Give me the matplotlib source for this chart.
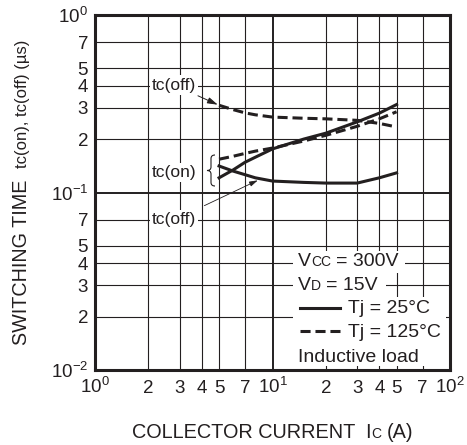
import numpy as np
import matplotlib
matplotlib.use('Agg')
import matplotlib.pyplot as plt
from matplotlib.ticker import LogLocator, FuncFormatter
from matplotlib.path import Path
from matplotlib.patches import PathPatch, Rectangle
from matplotlib.lines import Line2D

plt.rcParams['font.family'] = ['Liberation Sans', 'DejaVu Sans']
INK = '#231f20'

# data
current = [5, 6, 7, 8, 10, 15, 20, 30, 40, 50]
ton_25 = [0.121, 0.134, 0.148, 0.158, 0.176, 0.200, 0.216, 0.250, 0.280, 0.313]
ton_125 = [0.154, 0.160, 0.166, 0.171, 0.178, 0.195, 0.210, 0.236, 0.260, 0.285]
toff_25 = [0.141, 0.132, 0.126, 0.121, 0.116, 0.114, 0.113, 0.113, 0.121, 0.129]
toff_125 = [0.310, 0.293, 0.281, 0.274, 0.266, 0.262, 0.260, 0.255, 0.245, 0.234]

W, H = 467, 445
fig = plt.figure(figsize=(W / 100, H / 100), dpi=100)
ax = fig.add_axes([95 / W, 1 - 370 / H, 355 / W, 355 / H])
renderer = fig.canvas.get_renderer()


def px_ax(x, y):
    # figure pixel (from top-left) -> axes fraction
    return (x - 95) / 355, (370 - y) / 355


ax.set_xscale('log')
ax.set_yscale('log')
ax.set_xlim(1, 100)
ax.set_ylim(0.01, 1)

sub_fmt = FuncFormatter(lambda v, p: '%d' % round(v / 10 ** np.floor(np.log10(v) + 1e-9)))
for axis in (ax.xaxis, ax.yaxis):
    axis.set_major_locator(LogLocator(base=10, numticks=5))
    axis.set_minor_locator(LogLocator(base=10, subs=(2, 3, 4, 5, 7), numticks=12))
    axis.set_minor_formatter(sub_fmt)
ax.tick_params(which='both', length=0, labelsize=13.5, colors=INK)
ax.tick_params(axis='x', which='both', pad=16.5)
ax.tick_params(axis='y', which='both', pad=5)
for tick in ax.xaxis.get_major_ticks() + ax.xaxis.get_minor_ticks():
    tick.label1.set_va('baseline')
ax.grid(which='major', color=INK, lw=1.4)
ax.grid(which='minor', color=INK, lw=0.8)
for s in ax.spines.values():
    s.set_linewidth(2.2)
    s.set_color(INK)

dash = (0, (3.3, 1.6))
ax.plot(current, ton_25, color=INK, lw=2.2, zorder=3)
ax.plot(current, toff_25, color=INK, lw=2.2, zorder=3)
ax.plot(current, ton_125, color=INK, lw=2.2, ls=dash, zorder=3)
ax.plot(current, toff_125, color=INK, lw=2.2, ls=dash, zorder=3)

# labels on the curves
box = dict(fc='white', ec='none', pad=1.5)
ax.annotate('tc(off)', xy=(current[0], toff_125[0]), xytext=(2.79, 0.403),
            ha='center', va='center', fontsize=12.5, color=INK, bbox=box, zorder=4,
            arrowprops=dict(arrowstyle='-|>,head_length=0.5,head_width=0.15', lw=0.7,
                            color=INK, shrinkA=2, shrinkB=1))
ax.annotate('tc(off)', xy=(8.4, 0.118), xytext=(2.79, 0.070),
            ha='center', va='center', fontsize=12.5, color=INK, bbox=box, zorder=4,
            arrowprops=dict(arrowstyle='-|>,head_length=0.4,head_width=0.12', lw=0.6,
                            color=INK, shrinkA=8, shrinkB=1))
ax.text(2.79, 0.129, 'tc(on)', ha='center', va='center', fontsize=12.5, color=INK,
        bbox=box, zorder=4)

# brace
bx0, by0 = px_ax(207, 186)
bx1, by1 = px_ax(215, 155)
bm = (by0 + by1) / 2
xm = (bx0 + bx1) / 2
d = 0.01
verts = [(bx1, by1), (xm, by1), (xm, by1 - d), (xm, bm + d), (xm, bm), (bx0, bm),
         (xm, bm), (xm, bm - d), (xm, by0 + d), (xm, by0), (bx1, by0)]
codes = [Path.MOVETO, Path.CURVE3, Path.CURVE3, Path.LINETO, Path.CURVE3, Path.CURVE3,
         Path.CURVE3, Path.CURVE3, Path.LINETO, Path.CURVE3, Path.CURVE3]
ax.add_patch(PathPatch(Path(verts, codes), transform=ax.transAxes, fc='none',
                       ec=INK, lw=0.8, zorder=4))


def rich_text(x, y, pieces):
    # pieces drawn left to right on one baseline, x/y in figure pixels
    for p in pieces:
        if isinstance(p, (int, float)):
            x += p
            continue
        s, size = p
        t = fig.text(x / W, 1 - y / H, s, fontsize=size, ha='left', va='baseline',
                     color=INK, zorder=5)
        x += t.get_window_extent(renderer).width
    return x


# condition block, white patches cover the grid
for (x0, y0, x1, y1) in [(293, 251, 405, 273), (293, 273, 386, 297), (293, 297, 446, 366)]:
    a0, b0 = px_ax(x0, y1)
    a1, b1 = px_ax(x1, y0)
    ax.add_patch(Rectangle((a0, b0), a1 - a0, b1 - b0, transform=ax.transAxes,
                           fc='white', ec='none', zorder=2))

rich_text(298, 266, [('V', 14), ('CC', 10), 5, ('= 300V', 14)])
rich_text(298, 290, [('V', 14), ('D', 10), 5, ('= 15V', 14)])
rich_text(348, 313, [('Tj = 25°C', 14)])
rich_text(348, 337, [('Tj = 125°C', 14)])
rich_text(298, 362, [('Inductive load', 14)])

for yy, style in [(308, '-'), (331, dash)]:
    l0 = px_ax(300, yy)
    l1 = px_ax(340, yy)
    ax.add_line(Line2D([l0[0], l1[0]], [l0[1], l1[1]], transform=ax.transAxes,
                       color=INK, lw=2.2, ls=style, zorder=4))

# axis titles
rich_text(132, 438, [('COLLECTOR CURRENT  I', 14.3), ('C', 10), 5, ('(A)', 14.3)])
fig.text(27 / W, 1 - 345 / H, 'SWITCHING TIME', rotation=90, rotation_mode='anchor',
         ha='left', va='baseline', fontsize=14.2, color=INK)
fig.text(27 / W, 1 - 40 / H, 'tc(on), tc(off) (µs)', rotation=90, rotation_mode='anchor',
         ha='right', va='baseline', fontsize=12, color=INK)

fig.savefig('out.png', dpi=100)
